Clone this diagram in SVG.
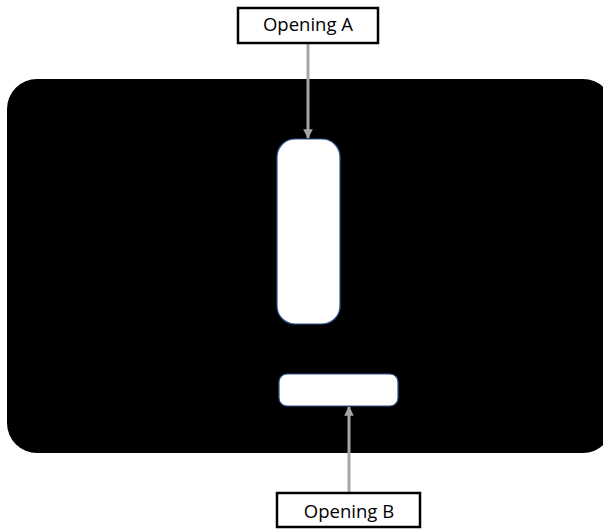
<svg xmlns="http://www.w3.org/2000/svg" width="603" height="529" viewBox="0 0 603 529">
<style>
.lbl{fill:#fff;stroke:#000;stroke-width:2.5}
.txt{font-family:"Open Sans","Liberation Sans",sans-serif;font-size:18.5px;fill:#000;text-anchor:middle}
.hole{fill:#fff;stroke:#2F528F;stroke-width:1.2}
.conn{stroke:#A6A6A6;stroke-width:3;fill:none}
</style>
<defs>
<marker id="ah" viewBox="0 0 10 10" refX="9" refY="5" markerWidth="3.2" markerHeight="3.2" orient="auto" markerUnits="strokeWidth">
<path d="M0,0 L10,5 L0,10 z" fill="#A6A6A6"/>
</marker>
</defs>
<g id="plate"><rect x="7" y="79" width="606" height="374" rx="30" fill="#000"/></g>
<g id="openingA-hole"><rect class="hole" x="277" y="139" width="63" height="185" rx="18"/></g>
<g id="openingB-hole"><rect class="hole" x="279" y="374" width="119" height="32" rx="8"/></g>
<g id="connectors">
<line class="conn" x1="308" y1="43" x2="308" y2="138" marker-end="url(#ah)"/>
<line class="conn" x1="349" y1="493" x2="349" y2="407" marker-end="url(#ah)"/>
</g>
<g id="labelA"><rect class="lbl" x="238" y="8" width="140" height="35"/><text class="txt" x="308" y="31">Opening A</text></g>
<g id="labelB"><rect class="lbl" x="277" y="493" width="143" height="34"/><text class="txt" x="349" y="518">Opening B</text></g>
</svg>
